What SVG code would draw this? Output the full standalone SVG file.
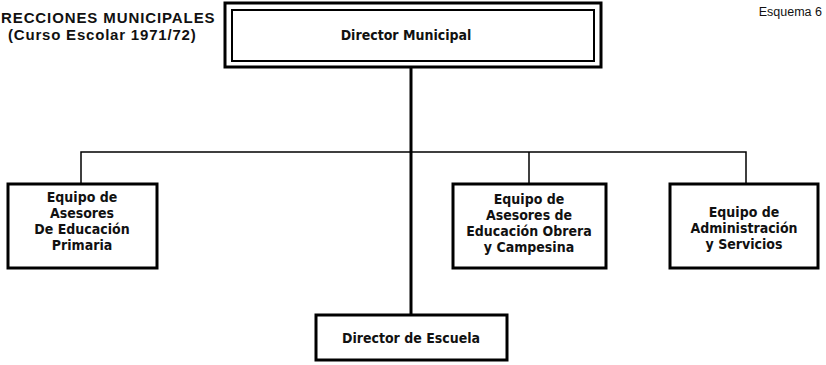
<svg xmlns="http://www.w3.org/2000/svg" width="826" height="365" viewBox="0 0 826 365">
<style>
.bg{fill:#fff}
.box{fill:#fff;stroke:#000;stroke-width:3}
.inner{fill:none;stroke:#000;stroke-width:2}
.lbl{font-family:"DejaVu Sans Condensed","Liberation Sans Narrow","Liberation Sans",sans-serif;font-size:14px;font-weight:bold;fill:#111;text-anchor:middle}
.title{font-family:"Liberation Sans","Arial",sans-serif;font-size:15px;font-weight:bold;fill:#111}
.esq{font-family:"Liberation Sans","Arial",sans-serif;font-size:12.5px;fill:#111}
.conn{stroke:#000;stroke-width:1.5;fill:none}
.trunk{stroke:#000;stroke-width:3;fill:none}
</style>
<rect class="bg" x="0" y="0" width="826" height="365"/>
<g id="title">
<text class="title" x="1" y="23" letter-spacing="0.9">RECCIONES MUNICIPALES</text>
<text class="title" x="8" y="40" letter-spacing="0.8">(Curso Escolar 1971/72)</text>
</g>
<text class="esq" x="822" y="16" text-anchor="end">Esquema 6</text>
<g id="connectors">
<line class="trunk" x1="411" y1="67" x2="411" y2="315"/>
<polyline class="conn" points="81,184 81,152 746,152 746,184"/>
<line class="conn" x1="529" y1="152" x2="529" y2="184"/>
</g>
<g id="director-municipal">
<rect class="box" x="225" y="3" width="376" height="64"/>
<rect class="inner" x="232" y="10" width="362" height="51"/>
<text class="lbl" x="406" y="40">Director Municipal</text>
</g>
<g id="asesores-primaria">
<rect class="box" x="8" y="184" width="149" height="84"/>
<text class="lbl" x="82" y="202">Equipo de</text>
<text class="lbl" x="82" y="218">Asesores</text>
<text class="lbl" x="82" y="234">De Educación</text>
<text class="lbl" x="82" y="250">Primaria</text>
</g>
<g id="asesores-obrera">
<rect class="box" x="453" y="184" width="153" height="84"/>
<text class="lbl" x="529" y="204">Equipo de</text>
<text class="lbl" x="529" y="220">Asesores de</text>
<text class="lbl" x="529" y="236">Educación Obrera</text>
<text class="lbl" x="529" y="252">y Campesina</text>
</g>
<g id="administracion">
<rect class="box" x="670" y="184" width="148" height="84"/>
<text class="lbl" x="744" y="217">Equipo de</text>
<text class="lbl" x="744" y="233">Administración</text>
<text class="lbl" x="744" y="249">y Servicios</text>
</g>
<g id="director-escuela">
<rect class="box" x="316" y="315" width="191" height="45"/>
<text class="lbl" x="411" y="343">Director de Escuela</text>
</g>
</svg>
